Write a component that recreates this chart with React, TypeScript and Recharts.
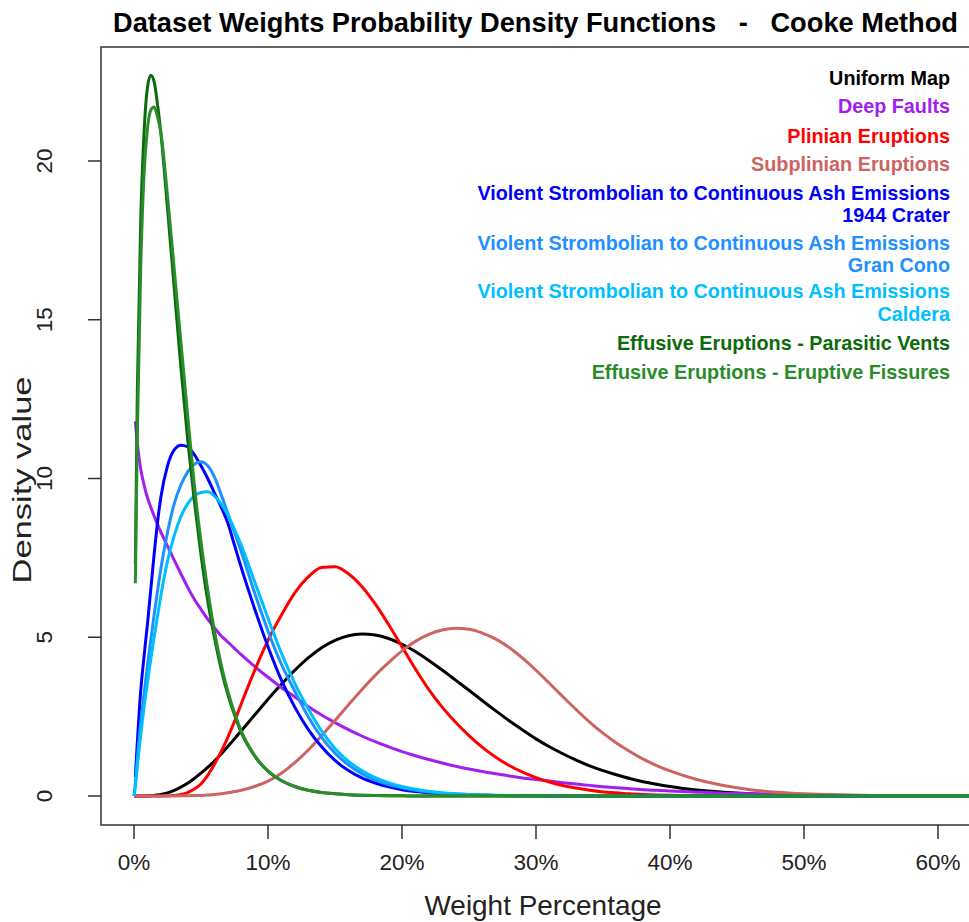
import React from 'react';
import { LineChart, Line, XAxis, YAxis, ReferenceArea } from 'recharts';

// weight percentage sample points (x axis, %)
const weightPct = [
  0, 0.1, 0.25, 0.5, 0.75, 1, 1.25, 1.5, 1.75, 2,
  2.5, 3, 3.5, 4, 4.5, 5, 5.5, 6, 6.5, 7,
  7.5, 8, 9, 10, 11, 12, 13, 14, 15, 16,
  17, 18, 19, 20, 21, 22, 23, 24, 25, 26,
  27, 28, 29, 30, 31, 32, 33, 34, 35, 36,
  37, 38, 39, 40, 42, 44, 46, 48, 50, 55,
  60, 64,
];

const uniformMap = [
  0, 0, 0, 0, 0.001, 0.005, 0.01, 0.02, 0.035, 0.05,
  0.1, 0.18, 0.28, 0.4, 0.55, 0.72, 0.9, 1.1, 1.32, 1.56,
  1.8, 2.05, 2.55, 3.05, 3.52, 3.96, 4.35, 4.67, 4.9, 5.05,
  5.1, 5.07, 4.96, 4.78, 4.55, 4.27, 3.97, 3.65, 3.33, 3.0,
  2.68, 2.37, 2.08, 1.8, 1.55, 1.33, 1.13, 0.95, 0.8, 0.67,
  0.55, 0.45, 0.37, 0.3, 0.19, 0.12, 0.07, 0.04, 0.025, 0.007,
  0.002, 0,
];

const deepFaults = [
  null, 11.8, 11.1, 10.3, 9.8, 9.4, 9.1, 8.82, 8.56, 8.32,
  7.87, 7.43, 7.0, 6.58, 6.2, 5.88, 5.57, 5.3, 5.05, 4.85,
  4.65, 4.45, 4.08, 3.74, 3.42, 3.12, 2.82, 2.55, 2.31, 2.09,
  1.89, 1.71, 1.55, 1.4, 1.27, 1.15, 1.04, 0.94, 0.85, 0.77,
  0.7, 0.63, 0.57, 0.52, 0.47, 0.42, 0.375, 0.335, 0.295, 0.26,
  0.23, 0.2, 0.178, 0.155, 0.12, 0.09, 0.068, 0.05, 0.038, 0.018,
  0.008, 0.004,
];

const plinian = [
  0, 0, 0, 0, 0, 0, 0, 0, 0, 0,
  0.005, 0.02, 0.05, 0.11, 0.22, 0.38, 0.65, 1.0, 1.4, 1.85,
  2.35, 2.9, 3.95, 4.9, 5.7, 6.4, 6.9, 7.2, 7.22, 7.0,
  6.6, 6.05, 5.4, 4.7, 4.0, 3.35, 2.8, 2.32, 1.9, 1.53,
  1.22, 0.96, 0.75, 0.58, 0.44, 0.33, 0.25, 0.18, 0.13, 0.1,
  0.07, 0.05, 0.035, 0.025, 0.012, 0.005, 0.002, 0, 0, 0,
  0, 0,
];

const subplinian = [
  0, 0, 0, 0, 0, 0, 0, 0, 0, 0,
  0, 0.002, 0.005, 0.01, 0.015, 0.02, 0.03, 0.05, 0.07, 0.1,
  0.14, 0.18, 0.3, 0.47, 0.72, 1.05, 1.45, 1.9, 2.38, 2.87,
  3.35, 3.8, 4.2, 4.57, 4.87, 5.09, 5.23, 5.28, 5.25, 5.13,
  4.94, 4.68, 4.34, 3.96, 3.55, 3.13, 2.72, 2.33, 1.98, 1.67,
  1.4, 1.16, 0.96, 0.79, 0.52, 0.33, 0.2, 0.12, 0.07, 0.015,
  0.003, 0,
];

const crater1944 = [
  null, 0.6, 1.7, 3.3, 4.4, 5.4, 6.5, 7.6, 8.6, 9.4,
  10.4, 10.9, 11.05, 11.0, 10.75, 10.4, 10.0, 9.55, 9.1, 8.6,
  7.9, 7.2, 5.9, 4.7, 3.65, 2.8, 2.1, 1.55, 1.12, 0.8,
  0.57, 0.41, 0.29, 0.2, 0.14, 0.1, 0.07, 0.05, 0.035, 0.025,
  0.017, 0.012, 0.008, 0.005, 0.003, 0.002, 0.001, 0, 0, 0,
  0, 0, 0, 0, 0, 0, 0, 0, 0, 0,
  0, 0,
];

const granCono = [
  0, 0.4, 1.2, 2.3, 3.2, 4.1, 4.9, 5.7, 6.45, 7.15,
  8.3, 9.2, 9.8, 10.2, 10.45, 10.53, 10.4, 10.05, 9.5, 8.9,
  8.3, 7.7, 6.4, 5.2, 4.15, 3.3, 2.5, 1.85, 1.35, 0.98,
  0.7, 0.5, 0.36, 0.26, 0.18, 0.13, 0.09, 0.065, 0.045, 0.03,
  0.02, 0.014, 0.01, 0.007, 0.005, 0.003, 0.002, 0.001, 0, 0,
  0, 0, 0, 0, 0, 0, 0, 0, 0, 0,
  0, 0,
];

const caldera = [
  0, 0.3, 0.95, 1.9, 2.8, 3.55, 4.3, 5.0, 5.65, 6.3,
  7.4, 8.2, 8.8, 9.2, 9.45, 9.56, 9.58, 9.45, 9.2, 8.85,
  8.4, 7.9, 6.75, 5.6, 4.5, 3.55, 2.75, 2.05, 1.5, 1.1,
  0.8, 0.58, 0.42, 0.3, 0.21, 0.15, 0.1, 0.07, 0.05, 0.035,
  0.025, 0.017, 0.012, 0.008, 0.005, 0.003, 0.002, 0.001, 0, 0,
  0, 0, 0, 0, 0, 0, 0, 0, 0, 0,
  0, 0,
];

const parasiticVents = [
  null, 7.3, 12.8, 18.1, 20.9, 22.3, 22.7, 22.5, 21.8, 20.9,
  18.5, 16.0, 13.5, 11.25, 9.3, 7.6, 6.15, 5.0, 4.0, 3.2,
  2.55, 2.0, 1.26, 0.78, 0.48, 0.3, 0.18, 0.11, 0.07, 0.04,
  0.025, 0.015, 0.01, 0.005, 0.003, 0.002, 0.001, 0, 0, 0,
  0, 0, 0, 0, 0, 0, 0, 0, 0, 0,
  0, 0, 0, 0, 0, 0, 0, 0, 0, 0,
  0, 0,
];

const eruptiveFissures = [
  null, 6.7, 11.4, 16.6, 19.6, 21.0, 21.6, 21.7, 21.4, 20.9,
  18.9, 16.6, 14.3, 12.0, 9.8, 8.0, 6.5, 5.2, 4.15, 3.3,
  2.62, 2.05, 1.28, 0.79, 0.49, 0.3, 0.18, 0.11, 0.07, 0.04,
  0.025, 0.015, 0.01, 0.005, 0.003, 0.002, 0.001, 0, 0, 0,
  0, 0, 0, 0, 0, 0, 0, 0, 0, 0,
  0, 0, 0, 0, 0, 0, 0, 0, 0, 0,
  0, 0,
];

const xTicks = [0, 10, 20, 30, 40, 50, 60];
const yTicks = [0, 5, 10, 15, 20];

const series = [
  { key: 'uniformMap', values: uniformMap, color: '#000000' },
  { key: 'deepFaults', values: deepFaults, color: '#A020F0' },
  { key: 'plinian', values: plinian, color: '#FF0000' },
  { key: 'subplinian', values: subplinian, color: '#CD6464' },
  { key: 'crater1944', values: crater1944, color: '#0000FF' },
  { key: 'granCono', values: granCono, color: '#1E90FF' },
  { key: 'caldera', values: caldera, color: '#00BFFF' },
  { key: 'parasiticVents', values: parasiticVents, color: '#0B6B0B' },
  { key: 'eruptiveFissures', values: eruptiveFissures, color: '#2A8C2A' },
];

// legend lines: text, colour, baseline
const legendLines = [
  { text: 'Uniform Map', color: '#000000', y: 85 },
  { text: 'Deep Faults', color: '#A020F0', y: 113 },
  { text: 'Plinian Eruptions', color: '#FF0000', y: 143 },
  { text: 'Subplinian Eruptions', color: '#CD6464', y: 171 },
  { text: 'Violent Strombolian to Continuous Ash Emissions', color: '#0000FF', y: 200 },
  { text: '1944 Crater', color: '#0000FF', y: 222 },
  { text: 'Violent Strombolian to Continuous Ash Emissions', color: '#1E90FF', y: 250 },
  { text: 'Gran Cono', color: '#1E90FF', y: 272 },
  { text: 'Violent Strombolian to Continuous Ash Emissions', color: '#00BFFF', y: 298 },
  { text: 'Caldera', color: '#00BFFF', y: 321 },
  { text: 'Effusive Eruptions - Parasitic Vents', color: '#0B6B0B', y: 350 },
  { text: 'Effusive Eruptions - Eruptive Fissures', color: '#2A8C2A', y: 379 },
];

const data = weightPct.map((x, i) => {
  const row: Record<string, number | null> = { x };
  series.forEach((s) => {
    row[s.key] = s.values[i];
  });
  return row;
});

const FONT = '"Liberation Sans", Arial, Helvetica, sans-serif';
const X_MIN = -2.463;
const X_MAX = 64.03;
const Y_MIN = -0.913;
const Y_MAX = 23.59;

const XTick = (props: any) => {
  const { x, payload } = props;
  return (
    <text x={x} y={870} textAnchor="middle" fontSize={22.5} fontFamily={FONT} fill="#222">
      {payload.value}%
    </text>
  );
};

const YTick = (props: any) => {
  const { y, payload } = props;
  return (
    <text
      x={52}
      y={y}
      transform={`rotate(-90, 52, ${y})`}
      textAnchor="middle"
      fontSize={22.5}
      fontFamily={FONT}
      fill="#222"
    >
      {payload.value}
    </text>
  );
};

export default function App() {
  return (
    <div
      style={{
        position: 'absolute',
        left: 0,
        top: 0,
        width: 969,
        height: 922,
        overflow: 'hidden',
        background: '#fff',
      }}
    >
      <LineChart
        width={1000}
        height={922}
        data={data}
        margin={{ top: 47, right: 8, bottom: 0, left: 0 }}
      >
        <XAxis
          type="number"
          dataKey="x"
          domain={[X_MIN, X_MAX]}
          ticks={xTicks}
          interval={0}
          height={97}
          axisLine={false}
          tickSize={14}
          tickLine={{ stroke: '#333', strokeWidth: 1.5 }}
          tick={(p: any) => <XTick {...p} />}
        />
        <YAxis
          type="number"
          domain={[Y_MIN, Y_MAX]}
          ticks={yTicks}
          interval={0}
          width={101}
          axisLine={false}
          tickSize={13}
          tickLine={{ stroke: '#333', strokeWidth: 1.5 }}
          tick={(p: any) => <YTick {...p} />}
        />
        {series.map((s) => (
          <Line
            key={s.key}
            dataKey={s.key}
            type="monotone"
            stroke={s.color}
            strokeWidth={3}
            dot={false}
            connectNulls={false}
            isAnimationActive={false}
          />
        ))}
        <ReferenceArea
          x1={X_MIN}
          x2={X_MAX}
          y1={Y_MIN}
          y2={Y_MAX}
          fill="#fff"
          fillOpacity={0}
          stroke="#333"
          strokeWidth={1.5}
          ifOverflow="visible"
        />
      </LineChart>

      <svg
        width={969}
        height={922}
        style={{ position: 'absolute', left: 0, top: 0, pointerEvents: 'none' }}
      >
        <text
          x={113}
          y={32}
          fontSize={27.5}
          fontWeight="bold"
          fontFamily={FONT}
          fill="#000"
          textLength={845}
          lengthAdjust="spacingAndGlyphs"
          style={{ whiteSpace: 'pre' }}
        >
          {'Dataset Weights Probability Density Functions   -   Cooke Method'}
        </text>
        {legendLines.map((l, i) => (
          <text
            key={i}
            x={950}
            y={l.y}
            textAnchor="end"
            fontSize={19.8}
            fontWeight="bold"
            fontFamily={FONT}
            fill={l.color}
          >
            {l.text}
          </text>
        ))}
        <text
          x={543}
          y={915}
          textAnchor="middle"
          fontSize={28}
          fontFamily={FONT}
          fill="#222"
          textLength={237}
          lengthAdjust="spacingAndGlyphs"
        >
          Weight Percentage
        </text>
        <text
          x={31}
          y={480}
          transform="rotate(-90, 31, 480)"
          textAnchor="middle"
          fontSize={26}
          fontFamily={FONT}
          fill="#222"
          textLength={207}
          lengthAdjust="spacingAndGlyphs"
        >
          Density value
        </text>
      </svg>
    </div>
  );
}
